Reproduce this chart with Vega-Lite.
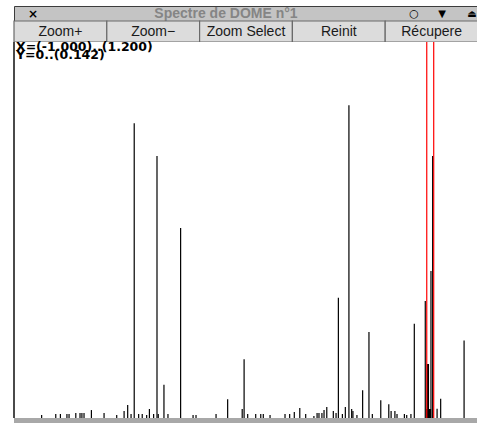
{
  "$schema": "https://vega.github.io/schema/vega-lite/v6.json",
  "padding": {"left": 13, "top": 5, "right": 0, "bottom": 0},
  "autosize": {"type": "pad"},
  "background": "white",
  "spacing": 0,
  "bounds": "flush",
  "config": {"view": {"stroke": null}, "concat": {"spacing": 0}},
  "datasets": {
    "spectre": [
      {"x": -0.869, "y": 0.0011}, {"x": -0.802, "y": 0.0015}, {"x": -0.780, "y": 0.0015},
      {"x": -0.749, "y": 0.0015}, {"x": -0.739, "y": 0.0015}, {"x": -0.707, "y": 0.0019},
      {"x": -0.687, "y": 0.0019}, {"x": -0.678, "y": 0.0019}, {"x": -0.668, "y": 0.0019},
      {"x": -0.633, "y": 0.0030}, {"x": -0.573, "y": 0.0019}, {"x": -0.513, "y": 0.0011},
      {"x": -0.478, "y": 0.0026}, {"x": -0.461, "y": 0.0049}, {"x": -0.445, "y": 0.0015},
      {"x": -0.430, "y": 0.1113}, {"x": -0.409, "y": 0.0015}, {"x": -0.392, "y": 0.0015},
      {"x": -0.371, "y": 0.0011}, {"x": -0.358, "y": 0.0034}, {"x": -0.338, "y": 0.0015},
      {"x": -0.322, "y": 0.0989}, {"x": -0.316, "y": 0.0015}, {"x": -0.289, "y": 0.0126},
      {"x": -0.270, "y": 0.0015}, {"x": -0.210, "y": 0.0718}, {"x": -0.151, "y": 0.0011},
      {"x": -0.137, "y": 0.0011}, {"x": -0.042, "y": 0.0015}, {"x": 0.013, "y": 0.0071},
      {"x": 0.082, "y": 0.0034}, {"x": 0.091, "y": 0.0222}, {"x": 0.108, "y": 0.0015},
      {"x": 0.146, "y": 0.0015}, {"x": 0.170, "y": 0.0015}, {"x": 0.182, "y": 0.0015},
      {"x": 0.214, "y": 0.0011}, {"x": 0.285, "y": 0.0015}, {"x": 0.307, "y": 0.0015},
      {"x": 0.329, "y": 0.0023}, {"x": 0.355, "y": 0.0038}, {"x": 0.383, "y": 0.0015},
      {"x": 0.422, "y": 0.0008}, {"x": 0.437, "y": 0.0019}, {"x": 0.446, "y": 0.0019},
      {"x": 0.460, "y": 0.0019}, {"x": 0.470, "y": 0.0030}, {"x": 0.483, "y": 0.0042},
      {"x": 0.514, "y": 0.0026}, {"x": 0.527, "y": 0.0019}, {"x": 0.538, "y": 0.0454},
      {"x": 0.557, "y": 0.0015}, {"x": 0.571, "y": 0.0042}, {"x": 0.588, "y": 0.1181},
      {"x": 0.601, "y": 0.0034}, {"x": 0.607, "y": 0.0026}, {"x": 0.626, "y": 0.0011},
      {"x": 0.653, "y": 0.0105}, {"x": 0.683, "y": 0.0325}, {"x": 0.699, "y": 0.0015},
      {"x": 0.739, "y": 0.0067}, {"x": 0.777, "y": 0.0052}, {"x": 0.788, "y": 0.0026},
      {"x": 0.806, "y": 0.0026}, {"x": 0.816, "y": 0.0015}, {"x": 0.851, "y": 0.0015},
      {"x": 0.862, "y": 0.0011}, {"x": 0.882, "y": 0.0015}, {"x": 0.898, "y": 0.0356},
      {"x": 0.950, "y": 0.0442}, {"x": 0.956, "y": 0.0034}, {"x": 0.960, "y": 0.0204},
      {"x": 0.965, "y": 0.0204}, {"x": 0.970, "y": 0.0034}, {"x": 0.975, "y": 0.0034},
      {"x": 0.977, "y": 0.0555}, {"x": 0.985, "y": 0.0989}, {"x": 1.006, "y": 0.0035},
      {"x": 1.023, "y": 0.0073}, {"x": 1.134, "y": 0.0293}
    ],
    "bornes": [{"x": 0.957}, {"x": 0.990}],
    "boutons": [
      {"label": "Zoom+"}, {"label": "Zoom−"}, {"label": "Zoom Select"}, {"label": "Reinit"}, {"label": "Récupere"}
    ]
  },
  "vconcat": [
    {
      "width": 464,
      "height": 15,
      "view": {"fill": "#c4c4c4", "stroke": "#3c3c3c"},
      "data": {"values": [{"t": "Spectre de DOME n°1"}]},
      "layer": [
        {
          "mark": {"type": "text", "font": "Liberation Sans", "fontWeight": "bold", "fontSize": 14, "color": "#858585", "dx": -20, "dy": 0},
          "encoding": {"text": {"field": "t"}}
        },
        {
          "mark": {"type": "text", "font": "DejaVu Sans", "fontWeight": "bold", "fontSize": 12, "color": "#000000", "dx": -213},
          "encoding": {"text": {"value": "×"}}
        },
        {
          "mark": {"type": "text", "font": "DejaVu Sans", "fontSize": 11, "color": "#000000", "dx": 168},
          "encoding": {"text": {"value": "○"}}
        },
        {
          "mark": {"type": "text", "font": "DejaVu Sans", "fontSize": 10, "color": "#000000", "dx": 196},
          "encoding": {"text": {"value": "▼"}}
        },
        {
          "mark": {"type": "text", "font": "DejaVu Sans", "fontSize": 10, "color": "#000000", "dx": 226},
          "encoding": {"text": {"value": "⏏"}}
        }
      ]
    },
    {
      "width": 464,
      "height": 21,
      "view": {"fill": "#dadada", "stroke": null},
      "data": {"name": "boutons"},
      "layer": [
        {
          "mark": {"type": "bar", "fill": "#dcdcdc", "stroke": "#6a6a6a", "strokeWidth": 1.2},
          "encoding": {
            "x": {"field": "label", "type": "nominal", "sort": null, "axis": null, "scale": {"paddingInner": 0, "paddingOuter": 0}}
          }
        },
        {
          "mark": {"type": "text", "font": "Liberation Sans", "fontSize": 14, "color": "#1a1a1a"},
          "encoding": {
            "x": {"field": "label", "type": "nominal", "sort": null, "axis": null},
            "text": {"field": "label"}
          }
        }
      ]
    },
    {
      "width": 464,
      "height": 376,
      "view": {"fill": "#ffffff", "stroke": null},
      "layer": [
        {
          "data": {"name": "spectre"},
          "mark": {"type": "rule", "color": "#000000", "strokeWidth": 1.2},
          "encoding": {
            "x": {"field": "x", "type": "quantitative", "axis": null, "scale": {"domain": [-1, 1.2], "nice": false, "zero": false}},
            "y": {"field": "y", "type": "quantitative", "axis": null, "scale": {"domain": [0, 0.142], "nice": false}},
            "y2": {"datum": 0}
          }
        },
        {
          "data": {"name": "bornes"},
          "mark": {"type": "rule", "color": "#ff0000", "strokeWidth": 1.2},
          "encoding": {
            "x": {"field": "x", "type": "quantitative"}
          }
        },
        {
          "data": {"values": [{"b": -1}]},
          "mark": {"type": "rule", "color": "#4a4a4a", "strokeWidth": 2},
          "encoding": {
            "x": {"field": "b", "type": "quantitative"}
          }
        },
        {
          "data": {"values": [{"t": ["X=(-1.000)..(1.200)", "Y=0..(0.142)"], "x": -1, "y": 0.142}]},
          "mark": {"type": "text", "font": "DejaVu Sans", "fontWeight": "bold", "fontSize": 12.5, "align": "left", "baseline": "top", "lineHeight": 7.5, "dx": 2, "dy": -1, "color": "#000000"},
          "encoding": {
            "x": {"field": "x", "type": "quantitative"},
            "y": {"field": "y", "type": "quantitative"},
            "text": {"field": "t"}
          }
        }
      ]
    },
    {
      "width": 464,
      "height": 6,
      "view": {"fill": "#a8a8a8", "stroke": null},
      "data": {"values": [{"t": ""}]},
      "mark": {"type": "text"},
      "encoding": {"text": {"field": "t"}}
    }
  ]
}
